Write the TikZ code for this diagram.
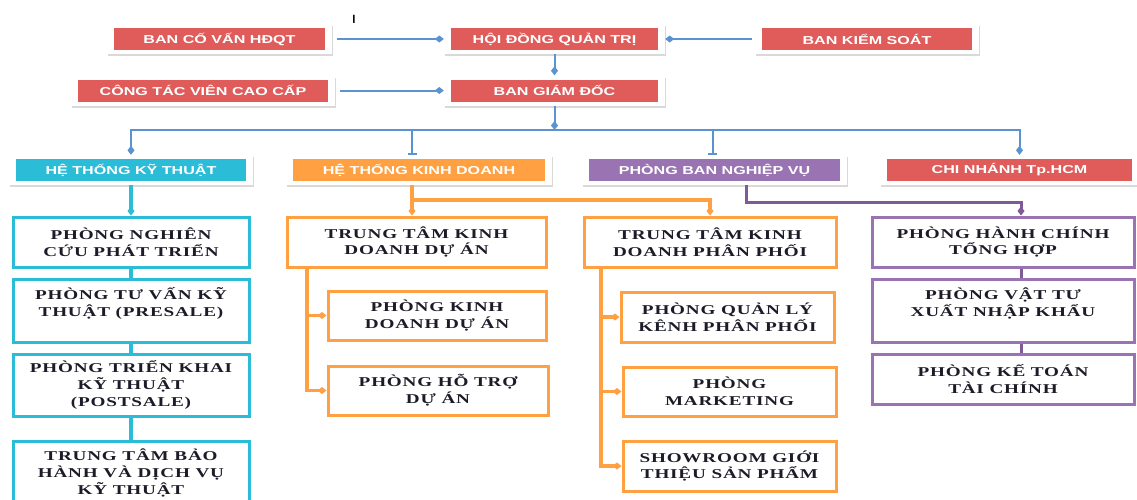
\documentclass[tikz,border=0pt]{standalone}
\usepackage{fontspec}
\setmainfont{Liberation Serif}
\newfontfamily\topfont{Liberation Sans}[FakeStretch=1.4]
\newfontfamily\deptfont{Liberation Serif}[FakeStretch=1.42,LetterSpace=6]
\usetikzlibrary{arrows.meta,calc,shadows}

\definecolor{redbox}{HTML}{E05C5A}
\definecolor{cyanbox}{HTML}{2BBCD7}
\definecolor{orangebox}{HTML}{FFA142}
\definecolor{purplebox}{HTML}{9A73B3}
\definecolor{blueline}{HTML}{5B92D0}
\definecolor{purpleline}{HTML}{7E5A96}
\definecolor{deptink}{HTML}{1C1C28}

\tikzset{
  topcard/.style={fill=white, inner sep=0pt, minimum height=30, text=white,
    font=\topfont\fontsize{11.5}{13}\selectfont,
    drop shadow={shadow xshift=1pt, shadow yshift=-2pt, opacity=0.3},
    path picture={\fill[#1] ($(path picture bounding box.south west)+(7pt,4pt)$)
      rectangle ($(path picture bounding box.north east)+(-7pt,-4pt)$);}},
  deptbox/.style={draw=#1, line width=3pt, fill=white, align=center, inner sep=0pt,
    text=deptink, font=\deptfont\bfseries\fontsize{13.5}{16.7}\selectfont},
  bl/.style={draw=blueline, line width=2pt},
  cyl/.style={draw=cyanbox, line width=4pt},
  orl/.style={draw=orangebox, line width=3.5pt},
  pul/.style={draw=purpleline, line width=3pt},
  tip/.style={-{Diamond[length=9pt,width=7pt]}},
  tee/.style={-{Bar[width=9pt,line width=2pt]}}
}

\begin{document}
\begin{tikzpicture}[x=1pt,y=-1pt]
  %%%%% START %%%%%
  \useasboundingbox (0,0) rectangle (1137,499);
  \clip (0,0) rectangle (1137,499);

  \node (cursor) at (354,19) {\topfont\fontsize{12}{12}\selectfont I};

  % board and management
  \node[topcard=redbox, minimum width=225] (cv) at (219.5,39) {\bfseries BAN CỐ VẤN HĐQT};
  \node[topcard=redbox, minimum width=221] (hd) at (554.5,39) {\bfseries HỘI ĐỒNG QUẢN TRỊ};
  \node[topcard=redbox, minimum width=224] (ks) at (867,39) {\bfseries BAN KIỂM SOÁT};
  \node[topcard=redbox, minimum width=264] (ctv) at (203,90.5) {\bfseries CÔNG TÁC VIÊN CAO CẤP};
  \node[topcard=redbox, minimum width=221] (gd) at (554.5,90.5) {\bfseries BAN GIÁM ĐỐC};

  % systems
  \node[topcard=cyanbox, minimum width=244] (htkt) at (131,170) {\bfseries HỆ THỐNG KỸ THUẬT};
  \node[topcard=orangebox, minimum width=266] (htkd) at (419,170) {\bfseries HỆ THỐNG KINH DOANH};
  \node[topcard=purplebox, minimum width=265] (pbnv) at (714.5,170) {\bfseries PHÒNG BAN NGHIỆP VỤ};
  \node[topcard=redbox, minimum width=259] (cn) at (1009.5,170) {\bfseries CHI NHÁNH Tp.HCM};

  % technical column
  \node[deptbox=cyanbox, minimum width=236, minimum height=50] (b1) at (131,242) {PHÒNG NGHIÊN\\CỨU PHÁT TRIỂN};
  \node[deptbox=cyanbox, minimum width=236, minimum height=63] (b2) at (131,310.5) {PHÒNG TƯ VẤN KỸ\\THUẬT (PRESALE)\\~};
  \node[deptbox=cyanbox, minimum width=236, minimum height=62] (b3) at (131,385) {PHÒNG TRIỂN KHAI\\KỸ THUẬT\\(POSTSALE)};
  \node[deptbox=cyanbox, minimum width=236, minimum height=64] (b4) at (131,473) {TRUNG TÂM BẢO\\HÀNH VÀ DỊCH VỤ\\KỸ THUẬT};

  % sales columns
  \node[deptbox=orangebox, minimum width=259, minimum height=50] (kd1) at (416.5,242) {TRUNG TÂM KINH\\DOANH DỰ ÁN};
  \node[deptbox=orangebox, minimum width=218, minimum height=49] (kd2) at (437,315.5) {PHÒNG KINH\\DOANH DỰ ÁN};
  \node[deptbox=orangebox, minimum width=220, minimum height=49] (kd3) at (438,390.5) {PHÒNG HỖ TRỢ\\DỰ ÁN};
  \node[deptbox=orangebox, minimum width=252, minimum height=50] (pp1) at (710,242) {TRUNG TÂM KINH\\DOANH PHÂN PHỐI};
  \node[deptbox=orangebox, minimum width=213, minimum height=50] (pp2) at (727.5,317) {PHÒNG QUẢN LÝ\\KÊNH PHÂN PHỐI};
  \node[deptbox=orangebox, minimum width=213, minimum height=49] (pp3) at (729.5,391.5) {PHÒNG\\MARKETING};
  \node[deptbox=orangebox, minimum width=213, minimum height=50] (pp4) at (729.5,466) {SHOWROOM GIỚI\\THIỆU SẢN PHẨM};

  % admin column
  \node[deptbox=purplebox, minimum width=262, minimum height=50] (nv1) at (1003,242) {PHÒNG HÀNH CHÍNH\\TỔNG HỢP};
  \node[deptbox=purplebox, minimum width=262, minimum height=63] (nv2) at (1003,310.5) {PHÒNG VẬT TƯ\\XUẤT NHẬP KHẨU\\~};
  \node[deptbox=purplebox, minimum width=262, minimum height=50] (nv3) at (1003,379) {PHÒNG KẾ TOÁN\\TÀI CHÍNH};

  % top links
  \draw[bl,tip,shorten <=5pt] (cv) -- (hd);
  \draw[bl,tip,shorten <=3pt] (ks) -- (hd);
  \draw[bl,tip] (hd) -- (gd);
  \draw[bl,tip,shorten <=5pt] (ctv) -- (gd);

  \coordinate (bus) at (554.5,130);
  \draw[bl,tip] (gd) -- (bus);
  \draw[bl,tip] (bus) -| (htkt);
  \draw[bl,tee] (bus) -| ([xshift=-7pt]htkd.north);
  \draw[bl,tee] (bus) -| ([xshift=-2pt]pbnv.north);
  \draw[bl,tip] (bus) -| ([xshift=10pt]cn.north);

  % technical chain
  \draw[cyl,tip] (htkt) -- (b1);
  \draw[cyl] (b1) -- (b2);
  \draw[cyl] (b2) -- (b3);
  \draw[cyl] (b3) -- (b4);

  % sales links
  \coordinate (kdfork) at (412,200);
  \draw[orl] ([xshift=-7pt]htkd.south) -- (kdfork);
  \draw[orl,tip] (kdfork) -- (kdfork |- kd1.north);
  \draw[orl,tip] (kdfork) -| (pp1);
  \coordinate (kdrail) at (307,0);
  \draw[orl,tip] (kd1.south -| kdrail) |- (kd2);
  \draw[orl,tip] (kd1.south -| kdrail) |- (kd3);
  \coordinate (pprail) at (601,0);
  \draw[orl,tip] (pp1.south -| pprail) |- (pp2);
  \draw[orl,tip] (pp1.south -| pprail) |- (pp3);
  \draw[orl,tip] (pp1.south -| pprail) |- (pp4);

  % admin links
  \coordinate (nvfork) at (1021,202);
  \draw[pul,tip] ([xshift=32pt]pbnv.south) |- (nvfork) -- (nvfork |- nv1.north);
  \draw[pul] (nvfork |- nv1.south) -- (nvfork |- nv2.north);
  \draw[pul] (nvfork |- nv2.south) -- (nvfork |- nv3.north);
  %%%%% END %%%%%
\end{tikzpicture}
\end{document}
